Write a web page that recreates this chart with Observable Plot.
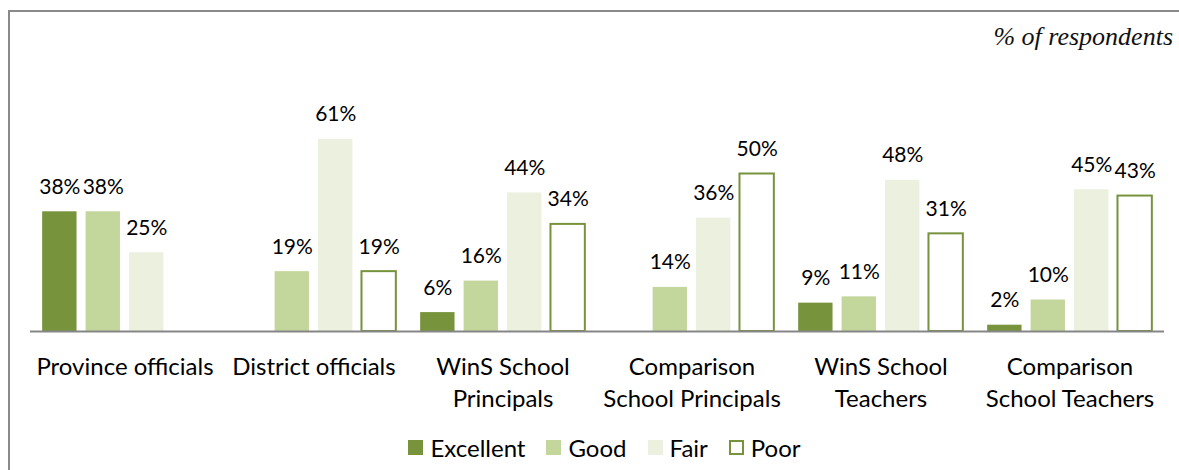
<!DOCTYPE html>
<html><head><meta charset="utf-8">
<script src="https://cdn.jsdelivr.net/npm/d3@7"></script>
<script src="https://cdn.jsdelivr.net/npm/@observablehq/plot@0.6"></script>
<style>
body{margin:0;background:#fff;}
#wrap{position:relative;width:1179px;height:470px;overflow:hidden;font-family:Lato,"Open Sans",sans-serif;}
#frame{position:absolute;left:8px;top:10px;width:1300px;height:600px;border:2px solid #8a8a8a;box-sizing:border-box;}
#title{position:absolute;right:6px;top:22px;font-family:"Liberation Serif",serif;font-style:italic;font-size:26px;color:#111;}
#chart{position:absolute;left:0;top:0;}
#legend{position:absolute;left:0;top:433px;width:1179px;display:flex;justify-content:center;gap:21px;font-size:24px;color:#000;padding-left:30px;box-sizing:border-box;}
.item{display:flex;align-items:center;gap:7px;}
.sw{width:15px;height:15px;box-sizing:border-box;}
</style></head>
<body>
<div id="wrap"><div id="frame"></div><div id="chart"></div><div id="title">% of respondents</div><div id="legend"></div></div>
<script>
const groups = ["Province officials","District officials","WinS School Principals","Comparison School Principals","WinS School Teachers","Comparison School Teachers"];
const groupLabels = ["Province officials","District officials","WinS School\nPrincipals","Comparison\nSchool Principals","WinS School\nTeachers","Comparison\nSchool Teachers"];
const series = ["Excellent","Good","Fair","Poor"];
const excellent = [38, null, 6, null, 9, 2];
const good = [38, 19, 16, 14, 11, 10];
const fair = [25, 61, 44, 36, 48, 45];
const poor = [null, 19, 34, 50, 31, 43];
const fills = ["#77933C","#C3D69B","#EBF1DE","#FFFFFF"];
const green = "#77933C";

const cols = [excellent, good, fair, poor];
const data = [];
groups.forEach((g,i)=>series.forEach((s,j)=>{ if(cols[j][i]!=null) data.push({group:g, series:s, value:cols[j][i]}); }));

const labelMap = new Map(groups.map((g,i)=>[g,groupLabels[i]]));

const plot = Plot.plot({
  width:1179, height:425,
  marginLeft:30, marginRight:15, marginTop:16, marginBottom:94,
  style:{fontFamily:"Lato, 'Open Sans', sans-serif", fontSize:"21px", color:"#000", background:"transparent"},
  fx:{domain:groups, paddingInner:0, paddingOuter:0, axis:null, round:false},
  x:{domain:series, paddingInner:0.209, paddingOuter:0.28, axis:null, round:false},
  y:{domain:[0,100], axis:null},
  color:{domain:series, range:fills},
  marks:[
    Plot.barY(data.filter(d=>d.series!=="Poor"), {fx:"group", x:"series", y:"value", fill:"series"}),
    Plot.barY(data.filter(d=>d.series==="Poor"), {fx:"group", x:"series", y:"value", fill:"#fff", stroke:green, strokeWidth:2}),
    Plot.ruleY([0], {stroke:"#868686", strokeWidth:2}),
    Plot.text(data, {fx:"group", x:"series", y:"value", text:d=>d.value+"%", lineAnchor:"bottom", dy:-18, fill:"#000", fontSize:21}),
    Plot.axisFx({anchor:"bottom", tickSize:0, tickPadding:20, label:null, tickFormat:d=>labelMap.get(d), fontSize:24, lineHeight:1.36, lineAnchor:"top", fill:"#000"})
  ]
});
document.getElementById("chart").appendChild(plot);

const leg = document.getElementById("legend");
series.forEach((s,j)=>{
  const it = document.createElement("div"); it.className="item";
  const sw = document.createElement("div"); sw.className="sw";
  sw.style.background = fills[j];
  if(s==="Poor") sw.style.border = "2px solid "+green;
  const t = document.createElement("span"); t.textContent = s;
  it.appendChild(sw); it.appendChild(t); leg.appendChild(it);
});
</script>
</body></html>
